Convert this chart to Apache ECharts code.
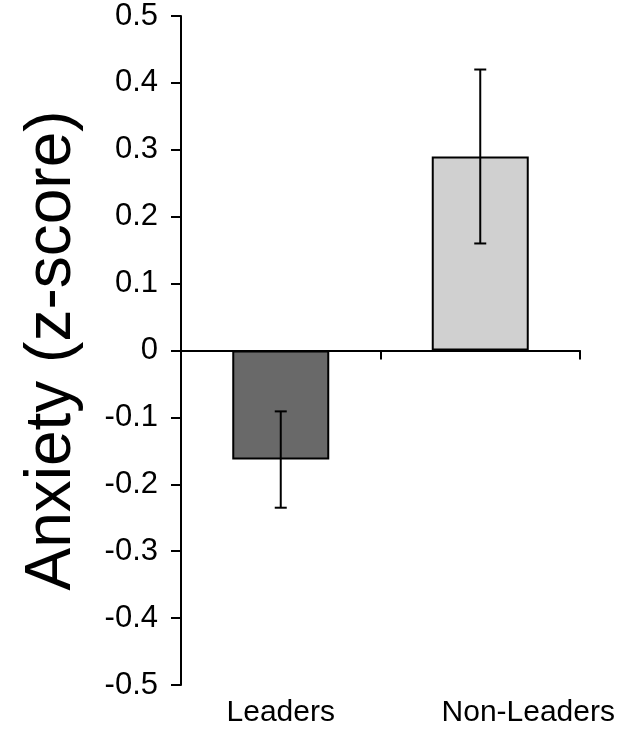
<!DOCTYPE html>
<html>
<head>
<meta charset="utf-8">
<script src="https://cdn.jsdelivr.net/npm/echarts@6/dist/echarts.min.js"></script>
<style>
html,body{margin:0;padding:0;background:#fff;}
#chart{width:644px;height:740px;}
</style>
</head>
<body>
<div id="chart"></div>
<script>
var categories = ['Leaders', 'Non-Leaders'];
var means = [-0.163, 0.29];
var errors = [0.072, 0.13];
var barColors = ['#696969', '#d0d0d0'];
var yTicks = [-0.5, -0.4, -0.3, -0.2, -0.1, 0, 0.1, 0.2, 0.3, 0.4, 0.5];

var font = 'Liberation Sans, Arial, sans-serif';
var chart = echarts.init(document.getElementById('chart'));

var errData = categories.map(function (c, i) {
  return [i, means[i] - errors[i], means[i] + errors[i]];
});

var labelPads = [[0, 0, 0, 0], [0, 0, 0, 96]];
var labelCats = categories.map(function (c, i) {
  return { value: c, textStyle: { padding: labelPads[i] } };
});

chart.setOption({
  animation: false,
  backgroundColor: '#fff',
  grid: { left: 181, right: 64, top: 16, bottom: 55, containLabel: false },
  xAxis: [{
    type: 'category',
    data: categories,
    axisLine: { onZero: true, lineStyle: { color: '#000', width: 2 } },
    axisTick: { show: true, length: 9, lineStyle: { color: '#000', width: 2 } },
    axisLabel: { show: false },
    splitLine: { show: false }
  }, {
    type: 'category',
    data: labelCats,
    position: 'bottom',
    axisLine: { show: false },
    axisTick: { show: false },
    axisLabel: { show: true, interval: 0, hideOverlap: false, color: '#000', fontSize: 30, fontFamily: font, margin: 13 },
    splitLine: { show: false }
  }],
  yAxis: {
    type: 'value',
    min: -0.5, max: 0.5, interval: 0.1,
    name: 'Anxiety (z-score)',
    nameLocation: 'middle',
    nameRotate: 90,
    nameGap: 97,
    nameTextStyle: { color: '#000', fontSize: 64, fontFamily: font },
    axisLine: { show: true, lineStyle: { color: '#000', width: 2 } },
    axisTick: { show: true, length: 10, lineStyle: { color: '#000', width: 2 } },
    axisLabel: {
      color: '#000', fontSize: 31, fontFamily: font, margin: 23,
      formatter: function (v) {
        var r = Math.round(v * 10) / 10;
        for (var k = 0; k < yTicks.length; k++) {
          if (Math.abs(yTicks[k] - r) < 1e-9) return r === 0 ? '0' : String(r);
        }
        return '';
      }
    },
    splitLine: { show: false }
  },
  series: [{
    type: 'bar',
    xAxisIndex: 0,
    barWidth: 97,
    data: means.map(function (v, i) {
      return { value: v, itemStyle: { color: barColors[i], borderColor: '#000', borderWidth: 2 } };
    }),
    z: 2
  }, {
    type: 'custom',
    xAxisIndex: 0,
    data: errData,
    z: 5,
    renderItem: function (params, api) {
      var x = api.value(0);
      var lo = api.coord([x, api.value(1)]);
      var hi = api.coord([x, api.value(2)]);
      var half = 6;
      var style = { stroke: '#000', lineWidth: 2 };
      return {
        type: 'group',
        children: [
          { type: 'line', shape: { x1: lo[0], y1: lo[1], x2: hi[0], y2: hi[1] }, style: style },
          { type: 'line', shape: { x1: lo[0] - half, y1: lo[1], x2: lo[0] + half, y2: lo[1] }, style: style },
          { type: 'line', shape: { x1: hi[0] - half, y1: hi[1], x2: hi[0] + half, y2: hi[1] }, style: style }
        ]
      };
    }
  }]
});
</script>
</body>
</html>
